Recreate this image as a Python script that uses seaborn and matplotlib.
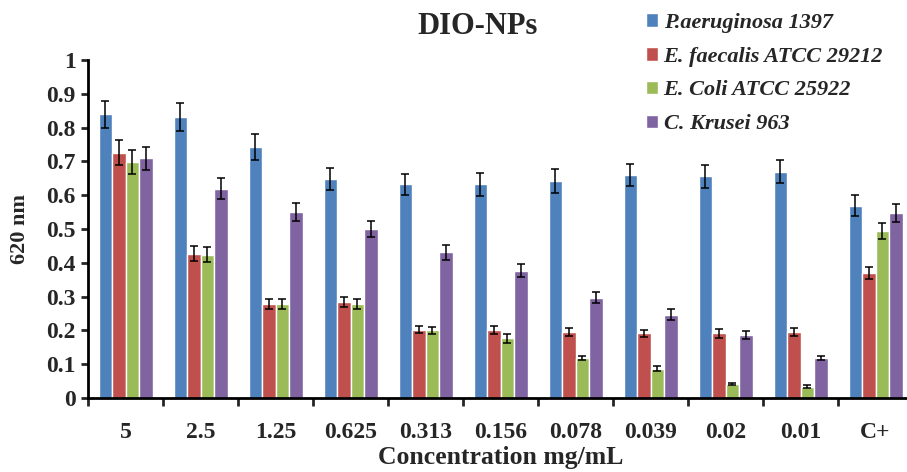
import numpy as np
import pandas as pd
import matplotlib
matplotlib.use("Agg")
import matplotlib.pyplot as plt
import seaborn as sns

categories = ["5", "2.5", "1.25", "0.625", "0.313", "0.156", "0.078", "0.039", "0.02", "0.01", "C+"]
series = ["P.aeruginosa 1397", "E. faecalis ATCC 29212", "E. Coli ATCC 25922", "C. Krusei 963"]

p_aeruginosa = [0.840, 0.832, 0.743, 0.647, 0.633, 0.632, 0.642, 0.659, 0.656, 0.670, 0.569]
e_faecalis = [0.726, 0.427, 0.278, 0.284, 0.202, 0.200, 0.194, 0.191, 0.191, 0.194, 0.369]
e_coli = [0.699, 0.424, 0.278, 0.278, 0.200, 0.177, 0.118, 0.087, 0.041, 0.033, 0.494]
c_krusei = [0.709, 0.619, 0.550, 0.501, 0.431, 0.377, 0.297, 0.247, 0.186, 0.119, 0.547]

err_p_aeruginosa = [0.040, 0.042, 0.038, 0.033, 0.031, 0.033, 0.035, 0.033, 0.034, 0.034, 0.031]
err_e_faecalis = [0.036, 0.022, 0.014, 0.014, 0.010, 0.012, 0.012, 0.010, 0.013, 0.012, 0.018]
err_e_coli = [0.035, 0.022, 0.014, 0.014, 0.010, 0.013, 0.007, 0.008, 0.004, 0.004, 0.024]
err_c_krusei = [0.035, 0.031, 0.027, 0.024, 0.022, 0.020, 0.016, 0.016, 0.011, 0.006, 0.027]

values = [p_aeruginosa, e_faecalis, e_coli, c_krusei]
errors = [err_p_aeruginosa, err_e_faecalis, err_e_coli, err_c_krusei]
colors = ["#4F81BD", "#C0504D", "#9BBB59", "#8064A2"]

rows = []
for s, vals in zip(series, values):
    for c, v in zip(categories, vals):
        rows.append({"Concentration": c, "Series": s, "Value": v})
df = pd.DataFrame(rows)

sns.set_style("white")
plt.rcParams["font.family"] = ["Liberation Serif", "DejaVu Serif"]

fig = plt.figure(figsize=(9.07, 4.72), dpi=100)
ax = fig.add_axes([88 / 907, 1 - 398 / 472, 825 / 907, 338 / 472])

sns.barplot(data=df, x="Concentration", y="Value", hue="Series", order=categories,
            hue_order=series, palette=colors, width=0.72, errorbar=None,
            saturation=1, ax=ax, legend=True)

for cont, err in zip(ax.containers, errors):
    xs = [b.get_x() + b.get_width() / 2 for b in cont]
    ys = [b.get_height() for b in cont]
    ax.errorbar(xs, ys, yerr=err, fmt="none", ecolor="black", elinewidth=1.1,
                capsize=3, capthick=1.1)

ax.set_xlim(-0.5, 10.5)
ax.set_ylim(0, 1)
ax.set_yticks(np.arange(0, 1.01, 0.1))
ax.set_yticklabels(["0", "0.1", "0.2", "0.3", "0.4", "0.5", "0.6", "0.7", "0.8", "0.9", "1"])
ax.set_xticks(np.arange(-0.5, 10.5, 1.0), minor=False)
ax.set_xticklabels([])
ax.set_xticks(np.arange(0, 11), minor=True)
ax.set_xticklabels(categories, minor=True)
ax.tick_params(axis="x", which="major", direction="out", length=6, width=2, bottom=True)
ax.tick_params(axis="x", which="minor", length=0, pad=17, labelsize=17)
ax.tick_params(axis="y", direction="out", length=5, width=2, left=True, labelsize=17, pad=4)
for lab in ax.get_xticklabels(minor=True) + ax.get_yticklabels():
    lab.set_fontweight("bold")

for side in ["top", "right"]:
    ax.spines[side].set_visible(False)
for side in ["left", "bottom"]:
    ax.spines[side].set_linewidth(2)
    ax.spines[side].set_color("black")

ax.set_xlabel("Concentration mg/mL", fontsize=18.5, fontweight="bold", va="baseline")
ax.xaxis.set_label_coords(0.5, -66 / 338)
ax.set_ylabel("620 nm", fontsize=16, fontweight="bold", va="center")
ax.yaxis.set_label_coords(-68 / 825, 0.5)
fig.text(478 / 907, 1 - 27 / 472, "DIO-NPs", ha="center", va="center",
         fontsize=22, fontweight="bold")

handles, labels = ax.get_legend_handles_labels()
ax.get_legend().remove()
fig.legend(handles, labels, loc="upper left", bbox_to_anchor=(0.69, 1.015),
           frameon=False, prop={"style": "italic", "weight": "bold", "size": 16},
           handlelength=0.55, handleheight=0.55, handletextpad=0.25, labelspacing=0.62)

fig.savefig("out.png", dpi=100)
